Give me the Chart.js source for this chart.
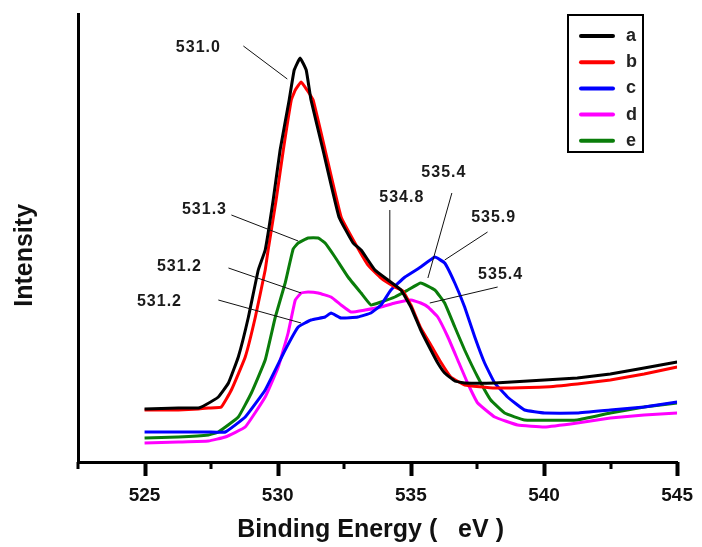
<!DOCTYPE html>
<html>
<head>
<meta charset="utf-8">
<script src="https://cdn.jsdelivr.net/npm/chart.js@4.4.1/dist/chart.umd.min.js"></script>
<style>
  html, body { margin: 0; padding: 0; background: #ffffff; }
  #wrap { width: 702px; height: 547px; position: relative; }
</style>
</head>
<body>
<div id="wrap"><canvas id="c" width="702" height="547"></canvas></div>
<script>
// ---------- DATA (binding energy in eV, intensity in arbitrary units) ----------
const seriesNames = ['a', 'b', 'c', 'd', 'e'];
const seriesColors = ['#000000', '#ff0000', '#0000ff', '#ff00ff', '#0a7d0a'];

const energyA = [525.0, 526.27, 527.02, 527.28, 527.77, 528.15, 528.52, 528.90, 529.27, 529.53, 529.83, 530.09, 530.43, 530.62, 530.84, 531.07, 531.25, 531.70, 532.30, 532.83, 533.13, 533.65, 534.14, 534.63, 535.00, 535.37, 535.75, 536.01, 536.27, 536.65, 537.02, 538.15, 540.02, 541.25, 542.49, 543.76, 545.0];
const intensityA = [53, 54, 54, 57, 65, 79, 105, 145, 192, 212, 262, 312, 362, 392, 404, 392, 362, 312, 245, 219, 212, 192, 182, 172, 155, 132, 112, 99, 89, 81, 79, 79, 82, 84, 88, 94, 100];

const energyB = [525.0, 526.27, 527.02, 527.40, 527.88, 528.26, 528.78, 529.16, 529.53, 529.64, 529.94, 530.21, 530.51, 530.66, 530.88, 531.10, 531.33, 531.78, 532.38, 532.90, 533.39, 533.88, 534.40, 534.70, 535.00, 535.37, 535.75, 536.12, 536.50, 537.02, 538.15, 540.02, 541.25, 542.49, 543.76, 545.0];
const intensityB = [52, 52, 53, 54, 55, 72, 105, 145, 192, 212, 262, 312, 362, 372, 380, 372, 362, 312, 245, 219, 197, 184, 175, 171, 157, 134, 117, 100, 85, 77, 74, 75, 78, 82, 88, 95];

const energyC = [525.0, 526.27, 527.40, 528.03, 528.78, 529.53, 530.28, 530.77, 531.25, 531.78, 532.00, 532.38, 533.01, 533.50, 533.88, 534.25, 534.78, 535.37, 535.90, 536.27, 536.65, 537.02, 537.40, 537.77, 538.15, 538.63, 539.27, 540.02, 541.25, 542.49, 543.76, 545.0];
const intensityC = [30, 30, 30, 30, 45, 72, 112, 135, 142, 145, 149, 144, 145, 149, 157, 172, 185, 195, 205, 199, 179, 155, 125, 99, 79, 65, 52, 49, 49, 52, 55, 60];

const energyD = [525.0, 526.27, 527.40, 528.03, 528.78, 529.53, 530.02, 530.39, 530.66, 530.88, 531.14, 531.52, 532.00, 532.38, 532.75, 533.28, 533.88, 534.40, 535.00, 535.37, 535.64, 536.01, 536.39, 536.76, 537.13, 537.51, 538.15, 539.01, 540.02, 541.25, 542.49, 543.76, 545.0];
const intensityD = [19, 20, 21, 25, 35, 65, 95, 129, 162, 169, 170, 169, 165, 157, 150, 152, 155, 159, 162, 159, 155, 145, 125, 102, 79, 59, 45, 37, 35, 39, 44, 47, 49];

const energyE = [525.0, 526.27, 527.40, 527.77, 528.52, 529.01, 529.53, 529.91, 530.28, 530.58, 530.77, 531.14, 531.52, 531.78, 532.15, 532.64, 533.13, 533.50, 533.88, 534.40, 534.89, 535.37, 535.90, 536.27, 536.65, 537.02, 537.51, 538.00, 538.52, 539.27, 541.25, 542.49, 543.76, 545.0];
const intensityE = [24, 25, 27, 30, 45, 69, 102, 145, 179, 213, 219, 224, 224, 219, 205, 185, 169, 157, 160, 165, 172, 179, 172, 159, 135, 112, 85, 62, 49, 42, 42, 49, 55, 59];

const xTickLabels = [525, 530, 535, 540, 545];
const xMinorTicks = [522.5, 527.5, 532.5, 537.5, 542.5];

// peak annotations: label text, label position, leader line start/end
const peakLabels = ['531.0', '531.3', '531.2', '531.2', '534.8', '535.4', '535.9', '535.4'];
const peakTextE = [527.02, 527.25, 526.31, 525.56, 534.66, 536.24, 538.11, 538.37];
const peakTextI = [414, 252, 195, 160, 264, 289, 244, 187];
const leaderFromE = [528.71, 528.26, 528.15, 527.77, 534.21, 536.54, 537.88, 538.26];
const leaderFromI = [416, 247, 194, 162, 252, 269, 230, 175];
const leaderToE = [530.36, 530.77, 530.88, 530.88, 534.21, 535.64, 536.27, 535.71];
const leaderToI = [383, 221, 169, 139, 180, 184, 202, 159];

// ---------- BUILD ----------
const FONT = "'Liberation Sans', Arial, sans-serif";
const energies = [energyA, energyB, energyC, energyD, energyE];
const intensities = [intensityA, intensityB, intensityC, intensityD, intensityE];

const datasets = seriesNames.map((name, i) => ({
  label: name,
  data: energies[i].map((e, k) => ({ x: e, y: intensities[i][k] })),
  borderColor: seriesColors[i],
  backgroundColor: seriesColors[i],
  borderWidth: 3,
  pointRadius: 0,
  tension: 0.1,
  fill: false,
  order: i
}));

const decorPlugin = {
  id: 'decor',
  afterDraw(chart) {
    const ctx = chart.ctx;
    const xs = chart.scales.x, ys = chart.scales.y;
    const base = xs.top;
    ctx.save();
    // axis tick marks (minor + major)
    ctx.fillStyle = '#000';
    for (let k = 0; k < xMinorTicks.length; k++) {
      const px = xs.getPixelForValue(xMinorTicks[k]);
      ctx.fillRect(Math.round(px) - 1.5, base, 3, 7);
    }
    for (let k = 0; k < xTickLabels.length; k++) {
      const px = xs.getPixelForValue(xTickLabels[k]);
      ctx.fillRect(Math.round(px) - 1.5, base, 4, 14);
    }
    // peak annotations
    ctx.lineWidth = 1;
    ctx.strokeStyle = '#111';
    ctx.fillStyle = '#1a1a1a';
    ctx.font = "bold 16px " + FONT;
    ctx.textAlign = 'center';
    ctx.textBaseline = 'middle';
    try { ctx.letterSpacing = '1px'; } catch (e) {}
    peakLabels.forEach((t, i) => {
      ctx.beginPath();
      ctx.moveTo(xs.getPixelForValue(leaderFromE[i]), ys.getPixelForValue(leaderFromI[i]));
      ctx.lineTo(xs.getPixelForValue(leaderToE[i]), ys.getPixelForValue(leaderToI[i]));
      ctx.stroke();
      ctx.fillText(t, xs.getPixelForValue(peakTextE[i]), ys.getPixelForValue(peakTextI[i]));
    });
    try { ctx.letterSpacing = '0px'; } catch (e) {}
    // legend box
    const bx = 568, by = 15, bw = 75, bh = 137;
    ctx.fillStyle = '#fff';
    ctx.fillRect(bx, by, bw, bh);
    ctx.strokeStyle = '#000';
    ctx.lineWidth = 2;
    ctx.strokeRect(bx, by, bw, bh);
    ctx.font = "bold 18px " + FONT;
    ctx.textAlign = 'left';
    chart.data.datasets.forEach((d, i) => {
      const y = by + 21 + i * 26.2;
      ctx.strokeStyle = d.borderColor;
      ctx.lineWidth = 4;
      ctx.lineCap = 'round';
      ctx.beginPath();
      ctx.moveTo(bx + 13, y);
      ctx.lineTo(bx + 45, y);
      ctx.stroke();
      ctx.fillStyle = '#222';
      ctx.fillText(d.label, bx + 58, y);
    });
    ctx.restore();
  }
};

new Chart(document.getElementById('c'), {
  type: 'line',
  data: { datasets },
  options: {
    responsive: false,
    animation: false,
    devicePixelRatio: 1,
    layout: { padding: { top: 14, right: 22, left: 0, bottom: 0 } },
    plugins: { legend: { display: false }, tooltip: { enabled: false } },
    scales: {
      x: {
        type: 'linear',
        min: 522.5,
        max: 545,
        afterFit(s) { s.height = 85; },
        afterBuildTicks(s) {
          s.ticks = xTickLabels.map(v => ({ value: v }));
        },
        ticks: {
          autoSkip: false,
          maxRotation: 0,
          padding: 9,
          color: '#111',
          font: { family: FONT, size: 19, weight: 'bold' },
          callback: (v) => String(v)
        },
        grid: {
          display: true,
          drawOnChartArea: false,
          drawTicks: true,
          tickLength: 13,
          tickColor: 'rgba(0,0,0,0)'
        },
        border: { display: true, color: '#000', width: 3 },
        title: {
          display: true,
          text: 'Binding Energy (   eV )  ',
          color: '#111',
          font: { family: FONT, size: 25, weight: 'bold', lineHeight: 1.2 },
          padding: { top: 0, bottom: 2 }
        }
      },
      y: {
        type: 'linear',
        min: 0,
        max: 448,
        afterFit(s) { s.width = 78; },
        ticks: { display: false },
        grid: { display: true, drawOnChartArea: false, drawTicks: false },
        border: { display: true, color: '#000', width: 3 },
        title: {
          display: true,
          text: 'Intensity     ',
          color: '#111',
          font: { family: FONT, size: 25, weight: 'bold', lineHeight: 1.2 },
          padding: { top: 10, bottom: 0 }
        }
      }
    }
  },
  plugins: [decorPlugin]
});
</script>
</body>
</html>
